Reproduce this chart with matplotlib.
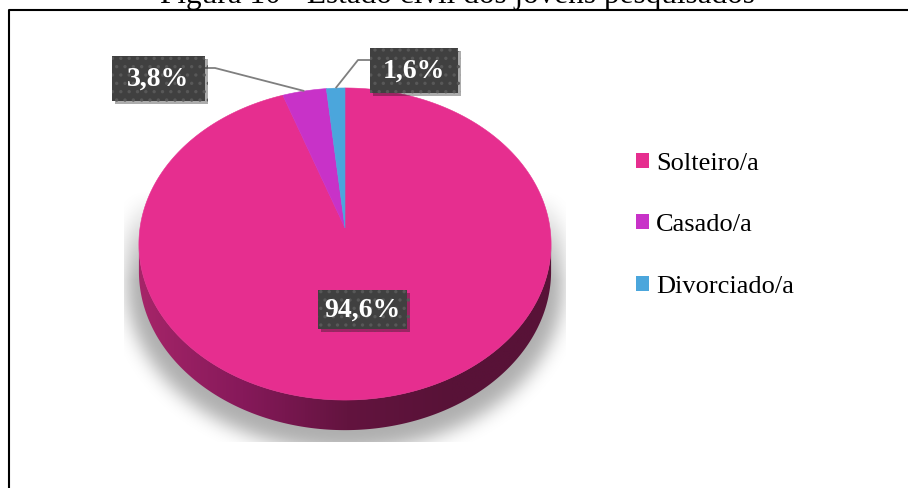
import numpy as np
import matplotlib.pyplot as plt
import matplotlib.patheffects as pe
from matplotlib.patches import Polygon, Rectangle, Patch
from matplotlib.colors import LinearSegmentedColormap

# Estado civil dos jovens pesquisados (%)
categorias = ["Solteiro/a", "Casado/a", "Divorciado/a"]
percentuais = [94.6, 3.8, 1.6]
cores = ["#E62E8F", "#C832C8", "#4BA6DC"]

titulo = "Figura 10 - Estado civil dos jovens pesquisados"

plt.rcParams["hatch.color"] = "#585858"
plt.rcParams["hatch.linewidth"] = 1.2

W, H = 908, 488
fig = plt.figure(figsize=(W / 100, H / 100), dpi=100)
ax = fig.add_axes([0, 0, 1, 1])
ax.axis("off")

# geometria da pizza em pixels, com leve perspectiva
cx, cy = 345, 228
sx, sy, k = 205, 154.4, 0.1026
depth = 27


def proj(theta, drop=0.0):
    u, v = np.cos(theta), np.sin(theta)
    w = 1 + k * v
    return cx + sx * u / w, cy - sy * v / w + drop / w


def no_disco(X, Y):
    dx, dy = X - cx, cy - Y
    v = dy / (sy - k * dy)
    u = dx * (1 + k * v) / sx
    return u ** 2 + v ** 2 <= 1


# sombra difusa embaixo da pizza
yy, xx = np.mgrid[0:H, 0:W] + 0.5
xo = cx + (xx - cx) / 1.06
yo = 88 + (yy - 88) / 1.06
m = (no_disco(xo, yo) | no_disco(xo, yo - 30)).astype(float)
g = np.exp(-0.5 * (np.arange(-30, 31) / 9.0) ** 2)
g /= g.sum()
m = np.apply_along_axis(lambda r: np.convolve(r, g, mode="same"), 1, m)
m = np.apply_along_axis(lambda c: np.convolve(c, g, mode="same"), 0, m)
rampa = np.clip((yy - 190) / 90, 0, 1)
caixa = (xx > 124) & (xx < 566) & (yy < 442)
sombra = np.zeros((H, W, 4))
sombra[..., 3] = 0.32 * m * rampa * caixa
ax.imshow(sombra, extent=(0, W, H, 0), zorder=1, interpolation="nearest")

# lateral (frente do cilindro)
a0 = np.pi + np.arcsin(k)
a1 = 2 * np.pi - np.arcsin(k)
t = np.linspace(a0, a1, 300)
topo = np.column_stack(proj(t))
base = np.column_stack(proj(t[::-1], depth))
lado = Polygon(np.vstack([topo, base]), closed=True, fill=False, lw=0)
ax.add_patch(lado)
cmap_lado = LinearSegmentedColormap.from_list(
    "lado", ["#A62569", "#86195A", "#63143F", "#581237", "#581237"])
grad = np.linspace(0, 1, 256)[None, :]
im = ax.imshow(grad, extent=(138, 556, 440, 225), cmap=cmap_lado,
               aspect="auto", zorder=2)
im.set_clip_path(lado)

# fatias do topo, a partir das 12h em sentido horario
fracs = np.array(percentuais) / sum(percentuais)
bordas = np.pi / 2 - 2 * np.pi * np.concatenate([[0], np.cumsum(fracs)])
meios = []
for i, cor in enumerate(cores):
    tt = np.linspace(bordas[i], bordas[i + 1], max(4, int(400 * fracs[i])))
    px, py = proj(tt)
    pts = np.vstack([[cx, cy], np.column_stack([px, py])])
    ax.add_patch(Polygon(pts, closed=True, facecolor=cor, edgecolor=cor,
                         lw=0.4, zorder=3))
    meios.append(proj((bordas[i] + bordas[i + 1]) / 2))

# rotulos de dados
centros = [(362.5, 309.5), (158.5, 78.5), (414, 70.5)]
tamanhos = [(89, 39), (93, 45), (88, 45)]
cotovelos = [None, (215, 68), (358, 60)]
saidas = [None, (205, 68), (370, 60)]
for i, p in enumerate(percentuais):
    if cotovelos[i] is not None:
        mx, my = meios[i]
        ax.plot([saidas[i][0], cotovelos[i][0], mx],
                [saidas[i][1], cotovelos[i][1], my],
                color="#7F7F7F", lw=1.3, zorder=4, solid_capstyle="butt")
    (bx, by), (bw, bh) = centros[i], tamanhos[i]
    r = Rectangle((bx - bw / 2, by - bh / 2), bw, bh, facecolor="#404040",
                  hatch="..", lw=0, zorder=5)
    r.set_path_effects([pe.SimplePatchShadow(offset=(2, -2), alpha=0.35),
                        pe.Normal()])
    ax.add_patch(r)
    ax.text(bx, by + 1, f"{p:.1f}%".replace(".", ","), ha="center",
            va="center", color="white", fontsize=20, fontweight="bold",
            family="Liberation Serif", zorder=6)

# legenda
ax.legend(handles=[Patch(facecolor=c, edgecolor="none") for c in cores],
          labels=categorias, loc="upper left", bbox_to_anchor=(636, 153),
          bbox_transform=ax.transData, frameon=False,
          prop=dict(family="Liberation Serif", size=19),
          handlelength=0.5, handleheight=0.5, handletextpad=0.25,
          labelspacing=1.49, borderpad=0, borderaxespad=0)

# moldura e titulo
ax.plot([8.5, 8.5, W], [H, 9.5, 9.5], color="black", lw=1.5, zorder=7)
ax.text(457, 3.5, titulo, ha="center", va="baseline", fontsize=22.5,
        family="Liberation Serif", zorder=7)

ax.set_xlim(0, W)
ax.set_ylim(H, 0)
fig.savefig("out.png", dpi=100)
